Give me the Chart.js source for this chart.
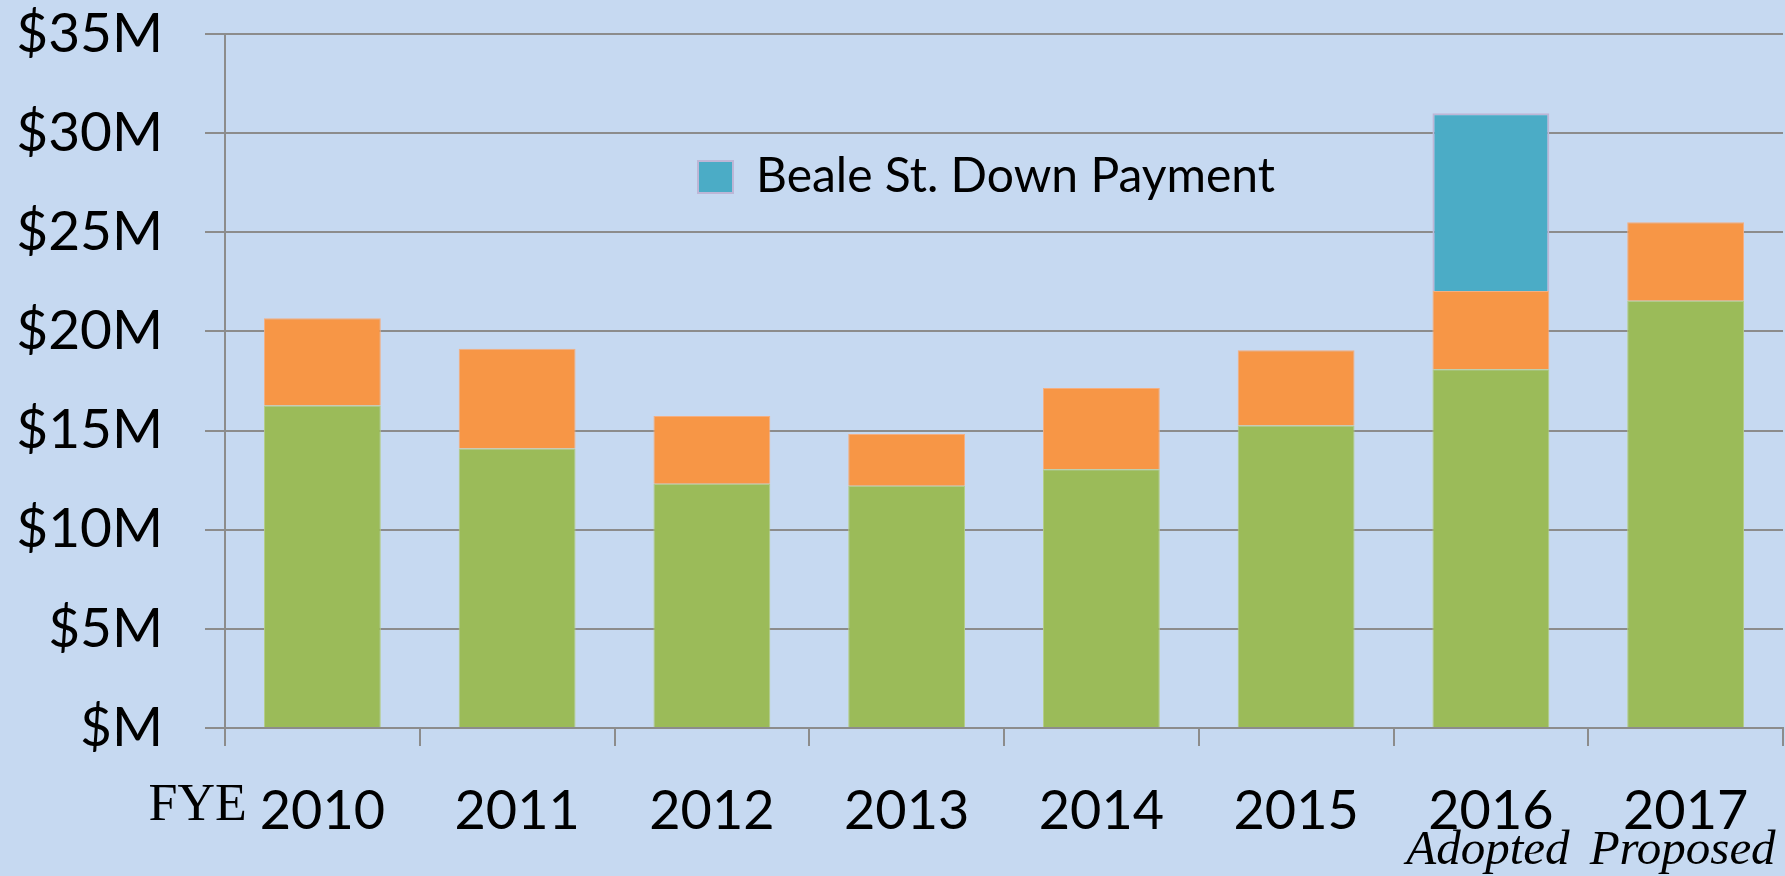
<!DOCTYPE html>
<html>
<head>
<meta charset="utf-8">
<script src="https://cdn.jsdelivr.net/npm/chart.js@4.4.1/dist/chart.umd.min.js"></script>
<style>
  html, body { margin: 0; padding: 0; background: #C6D9F1; }
  #wrap { width: 1785px; height: 876px; }
</style>
</head>
<body>
<div id="wrap"><canvas id="grafica" width="1785" height="876"></canvas></div>
<script>
// Datos (millones de dolares)
const years = ['2010', '2011', '2012', '2013', '2014', '2015', '2016', '2017'];
const subLabels = ['', '', '', '', '', '', 'Adopted', 'Proposed'];
const baseValues = [16.27, 14.10, 12.32, 12.22, 13.05, 15.26, 18.09, 21.55];
const otherValues = [4.39, 5.03, 3.41, 2.61, 4.10, 3.79, 3.95, 3.95];
const bealeValues = [null, null, null, null, null, null, 8.96, null];
const yTicks = [0, 5, 10, 15, 20, 25, 30, 35];

const gridColor = '#8C8C8C';
const sansFont = "Lato, 'Open Sans', sans-serif";
const serifFont = "'Liberation Serif', 'DejaVu Serif', serif";

// Leyenda propia: solo la serie Beale St., dentro del area del grafico
const leyendaPlugin = {
  id: 'leyendaBeale',
  afterDraw(chart) {
    const ctx = chart.ctx;
    const area = chart.chartArea;
    const ds = chart.data.datasets[2];
    const x = area.left + 473;
    const y = area.top + 127;
    ctx.save();
    ctx.fillStyle = ds.backgroundColor;
    ctx.fillRect(x, y, 35, 32);
    ctx.strokeStyle = ds.borderColor;
    ctx.lineWidth = 2;
    ctx.strokeRect(x, y, 35, 32);
    ctx.fillStyle = '#000';
    ctx.font = '48px ' + sansFont;
    ctx.textBaseline = 'alphabetic';
    ctx.fillText(ds.label, x + 58, y + 31);
    ctx.restore();
  }
};

// Textos extra del eje X: "FYE" y los subtitulos en cursiva
const etiquetasPlugin = {
  id: 'etiquetasExtra',
  afterDraw(chart) {
    const ctx = chart.ctx;
    const xScale = chart.scales.x;
    ctx.save();
    ctx.fillStyle = '#000';
    ctx.textBaseline = 'alphabetic';

    // FYE a la izquierda del primer anio
    ctx.font = '54px ' + sansFont;
    const w0 = ctx.measureText(years[0]).width;
    const x0 = xScale.getPixelForValue(0) - w0 / 2 - 13;
    ctx.font = '52px ' + serifFont;
    ctx.textAlign = 'right';
    ctx.fillText('FYE', x0, xScale.top + 92);

    ctx.font = 'italic 49px ' + serifFont;
    ctx.textAlign = 'center';
    subLabels.forEach((txt, i) => {
      if (!txt) return;
      ctx.fillText(txt, xScale.getPixelForValue(i) - 3, xScale.top + 136);
    });
    ctx.restore();
  }
};

const ctx = document.getElementById('grafica').getContext('2d');
new Chart(ctx, {
  type: 'bar',
  data: {
    labels: years,
    datasets: [
      {
        label: 'Base',
        data: baseValues,
        backgroundColor: '#9BBB59',
        borderColor: '#B4CD85',
        borderWidth: 1,
        barPercentage: 0.6,
        categoryPercentage: 1.0
      },
      {
        label: 'Other',
        data: otherValues,
        backgroundColor: '#F79646',
        borderColor: '#F5AE80',
        borderWidth: 1,
        barPercentage: 0.6,
        categoryPercentage: 1.0
      },
      {
        label: 'Beale St. Down Payment',
        data: bealeValues,
        backgroundColor: '#4BACC6',
        borderColor: '#BDB6D6',
        borderWidth: 2,
        barPercentage: 0.6,
        categoryPercentage: 1.0
      }
    ]
  },
  options: {
    responsive: false,
    animation: false,
    layout: { padding: { top: 34, right: 2, left: 0, bottom: 0 } },
    plugins: {
      legend: { display: false },
      tooltip: { enabled: false }
    },
    scales: {
      x: {
        stacked: true,
        grid: {
          display: true,
          drawOnChartArea: false,
          drawTicks: true,
          tickLength: 18,
          color: gridColor,
          lineWidth: 2
        },
        border: { display: true, color: gridColor, width: 2 },
        ticks: {
          color: '#000',
          font: { family: sansFont, size: 54 },
          padding: 33,
          maxRotation: 0,
          autoSkip: false
        },
        afterFit(scale) {
          scale.height = 148;
          scale.paddingLeft = 0;
          scale.paddingRight = 0;
        }
      },
      y: {
        stacked: true,
        min: 0,
        max: 35,
        afterBuildTicks(scale) {
          scale.ticks = yTicks.map(v => ({ value: v }));
        },
        grid: {
          color: gridColor,
          lineWidth: 2,
          tickLength: 20
        },
        border: { display: true, color: gridColor, width: 2 },
        ticks: {
          color: '#000',
          font: { family: sansFont, size: 55 },
          padding: 42,
          callback: v => v === 0 ? '$M' : '$' + v + 'M'
        },
        afterFit(scale) {
          scale.width = 225;
          scale.paddingTop = 0;
          scale.paddingBottom = 0;
        }
      }
    }
  },
  plugins: [leyendaPlugin, etiquetasPlugin]
});
</script>
</body>
</html>
